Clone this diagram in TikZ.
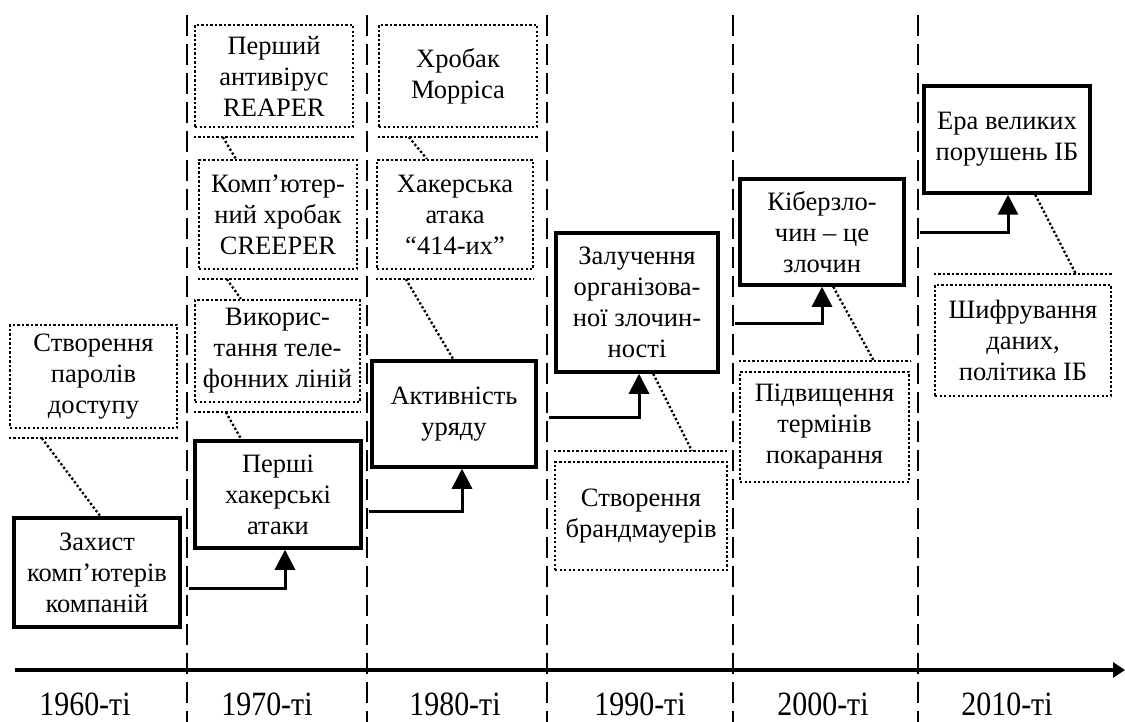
\documentclass[tikz,border=0pt]{standalone}
\usepackage{fontspec}
\setmainfont{Liberation Serif}
\newfontfamily\lblfont{Liberation Serif}[FakeStretch=0.88]
\usetikzlibrary{arrows.meta,calc}
\begin{document}
\begin{tikzpicture}[x=1pt,y=-1pt,
 evt/.style={draw, line width=3.5pt, align=center, inner sep=2pt, font=\fontsize{26.5}{31}\selectfont},
 note/.style={draw, line width=2.3pt, dash pattern=on 2.3pt off 2.2pt, align=center, inner sep=2pt, font=\fontsize{26.5}{31}\selectfont},
 leader/.style={line width=2.3pt, dash pattern=on 2.3pt off 2.2pt},
 era/.style={line width=2.5pt, dash pattern=on 21pt off 8pt},
 flow/.style={line width=3pt, -{Triangle[width=20pt,length=20pt]}},
 axisline/.style={line width=4pt, -{Triangle[width=15pt,length=12pt]}},
 lbl/.style={font=\lblfont\fontsize{34}{38}\selectfont}]
\useasboundingbox (0,0) rectangle (1125,722);

% era separators
\foreach \i/\x in {1/187,2/367,3/547,4/733,5/918}{
  \coordinate (d\i t) at (\x,15);
  \coordinate (d\i b) at (\x,722);
  \draw[era] (d\i t) -- (d\i b);
}

% axis
\coordinate (ax0) at (15,670);
\coordinate (ax1) at (1125,670);
\draw[axisline] (ax0) -- (ax1);
\node[lbl] (l1) at (85,704) {1960-ті};
\node[lbl] (l2) at (267,704) {1970-ті};
\node[lbl] (l3) at (455,704) {1980-ті};
\node[lbl] (l4) at (640,704) {1990-ті};
\node[lbl] (l5) at (823,704) {2000-ті};
\node[lbl] (l6) at (1007,704) {2010-ті};

% main events
\node[evt, minimum width=166pt, minimum height=109pt] (n1) at (97,572.5) {Захист\\комп’ютерів\\компаній};
\node[evt, minimum width=166pt, minimum height=107pt] (n2) at (278,494.5) {Перші\\хакерські\\атаки};
\node[evt, minimum width=164pt, minimum height=106pt] (n3) at (454,414) {Активність\\уряду};
\node[evt, minimum width=162pt, minimum height=139pt] (n4) at (637,302.5) {Залучення\\організова-\\ної злочин-\\ності};
\node[evt, minimum width=164pt, minimum height=106pt] (n5) at (822,232) {Кіберзло-\\чин – це\\злочин};
\node[evt, minimum width=166pt, minimum height=107pt] (n6) at (1007,139.5) {Ера великих\\порушень ІБ};

% notes
\node[note, minimum width=167pt, minimum height=103pt] (A) at (93.5,376.5) {Створення\\паролів\\доступу};
\node[note, minimum width=158pt, minimum height=102pt] (B) at (274,76) {Перший\\антивірус\\REAPER};
\node[note, minimum width=158pt, minimum height=109pt] (C) at (278,214.5) {Комп’ютер-\\ний хробак\\CREEPER};
\node[note, minimum width=165pt, minimum height=102pt] (D) at (277.5,351) {Викорис-\\тання теле-\\фонних ліній};
\node[note, minimum width=158pt, minimum height=102pt] (E) at (458,76) {Хробак\\Морріса};
\node[note, minimum width=156pt, minimum height=109pt] (F) at (455,214.5) {Хакерська\\атака\\“414-их”};
\node[note, minimum width=172pt, minimum height=108pt] (G) at (641,516) {Створення\\брандмауерів};
\node[note, minimum width=169pt, minimum height=110pt] (H) at (824.5,427) {Підвищення\\термінів\\покарання};
\node[note, minimum width=176pt, minimum height=111pt] (I) at (1023,340.5) {Шифрування\\даних,\\політика ІБ};

% extra dotted rules beside notes
\foreach \n in {A,B,C,D,E,F}{
  \draw[leader] ([yshift=-9pt]\n.south west) -- ([yshift=-9pt]\n.south east);
}
\foreach \n in {G,H,I}{
  \draw[leader] ([yshift=10pt]\n.north west) -- ([yshift=10pt]\n.north east);
}

% leaders
\draw[leader] ([xshift=33pt,yshift=-9pt]A.south west) -- ([xshift=88pt]n1.north west);
\draw[leader] ([xshift=29pt,yshift=-9pt]B.south west) -- ([xshift=38pt]C.north west);
\draw[leader] ([xshift=29pt,yshift=-9pt]C.south west) -- ([xshift=47pt]D.north west);
\draw[leader] ([xshift=32pt,yshift=-9pt]D.south west) -- ([xshift=48pt]n2.north west);
\draw[leader] ([xshift=31pt,yshift=-9pt]E.south west) -- ([xshift=51pt]F.north west);
\draw[leader] ([xshift=30pt,yshift=-9pt]F.south west) -- ([xshift=83pt]n3.north west);
\draw[leader] ([xshift=99pt]n4.south west) -- ([xshift=138pt,yshift=10pt]G.north west);
\draw[leader] ([xshift=95pt]n5.south west) -- ([xshift=135pt,yshift=10pt]H.north west);
\draw[leader] ([xshift=113pt]n6.south west) -- ([xshift=142pt,yshift=10pt]I.north west);

% flow arrows
\coordinate (s1) at (189,588);
\coordinate (s2) at (369,511);
\coordinate (s3) at (549,417);
\coordinate (s4) at (735,323);
\coordinate (s5) at (920,233);
\draw[flow] (s1) -| ([xshift=7pt]n2.south);
\draw[flow] (s2) -| ([xshift=8pt]n3.south);
\draw[flow] (s3) -| ([xshift=2pt]n4.south);
\draw[flow] (s4) -| (n5.south);
\draw[flow] (s5) -| ([xshift=1pt]n6.south);
\end{tikzpicture}
\end{document}
